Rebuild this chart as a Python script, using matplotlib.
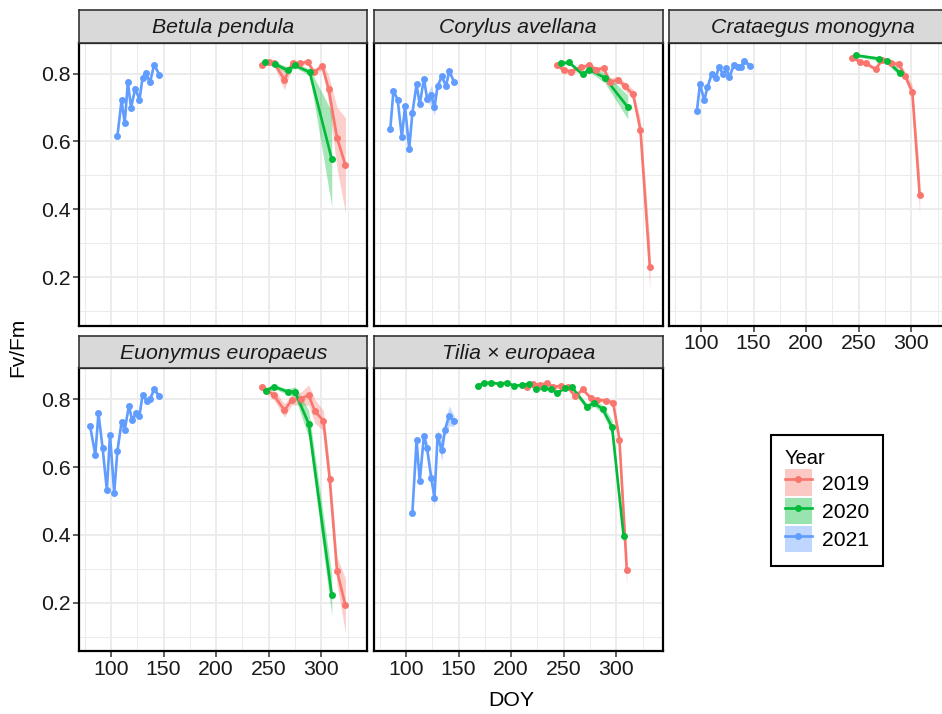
import matplotlib.pyplot as plt
from matplotlib.lines import Line2D
from matplotlib.patches import Patch
from matplotlib.ticker import MultipleLocator

plt.rcParams["font.family"] = ["Liberation Sans", "DejaVu Sans"]

W, H = 942, 714

years = ["2019", "2020", "2021"]
year_colors = ["#F8766D", "#00BA38", "#619CFF"]
species = ["Betula pendula", "Corylus avellana", "Crataegus monogyna",
           "Euonymus europaeus", "Tilia \u00d7 europaea"]

# Betula pendula
betula_2019_doy = [244, 250, 255, 265, 273, 280, 287, 293, 301, 307, 315, 323]
betula_2019_fvfm = [0.826, 0.835, 0.832, 0.782, 0.832, 0.830, 0.835, 0.804, 0.822, 0.755, 0.611, 0.530]
betula_2019_se = [0.006, 0.006, 0.008, 0.03, 0.006, 0.006, 0.008, 0.01, 0.01, 0.04, 0.09, 0.14]
betula_2020_doy = [246, 256, 268, 275, 289, 310]
betula_2020_fvfm = [0.833, 0.828, 0.810, 0.824, 0.804, 0.548]
betula_2020_se = [0.006, 0.006, 0.01, 0.006, 0.01, 0.14]
betula_2021_doy = [106, 110, 113, 116, 119, 123, 127, 130, 133, 137, 141, 146]
betula_2021_fvfm = [0.615, 0.721, 0.654, 0.774, 0.700, 0.756, 0.723, 0.788, 0.802, 0.774, 0.826, 0.796]
betula_2021_se = [0.01, 0.012, 0.01, 0.008, 0.008, 0.01, 0.012, 0.01, 0.012, 0.008, 0.008, 0.006]

# Corylus avellana
corylus_2019_doy = [244, 250, 257, 266, 274, 281, 288, 294, 302, 308, 316, 323, 332]
corylus_2019_fvfm = [0.825, 0.810, 0.806, 0.818, 0.824, 0.812, 0.816, 0.775, 0.782, 0.763, 0.739, 0.634, 0.229]
corylus_2019_se = [0.006, 0.008, 0.008, 0.008, 0.008, 0.008, 0.008, 0.012, 0.01, 0.012, 0.015, 0.03, 0.07]
corylus_2020_doy = [247, 255, 268, 274, 289, 311]
corylus_2020_fvfm = [0.830, 0.833, 0.798, 0.812, 0.788, 0.701]
corylus_2020_se = [0.005, 0.005, 0.008, 0.006, 0.015, 0.035]
corylus_2021_doy = [85, 88, 92, 96, 99, 103, 106, 110, 113, 117, 120, 124, 127, 130, 134, 138, 141, 146]
corylus_2021_fvfm = [0.637, 0.749, 0.723, 0.613, 0.703, 0.578, 0.684, 0.768, 0.709, 0.785, 0.726,
                     0.736, 0.701, 0.763, 0.792, 0.763, 0.807, 0.774]
corylus_2021_se = [0.008, 0.008, 0.008, 0.01, 0.008, 0.01, 0.008, 0.008, 0.008, 0.008, 0.01,
                   0.03, 0.025, 0.008, 0.008, 0.008, 0.008, 0.008]

# Crataegus monogyna
crataegus_2019_doy = [244, 251, 257, 266, 272, 281, 288, 294, 301, 308]
crataegus_2019_fvfm = [0.847, 0.835, 0.830, 0.813, 0.839, 0.830, 0.828, 0.794, 0.746, 0.443]
crataegus_2019_se = [0.005, 0.006, 0.006, 0.006, 0.006, 0.006, 0.01, 0.012, 0.02, 0.06]
crataegus_2020_doy = [247, 269, 277, 289]
crataegus_2020_fvfm = [0.854, 0.844, 0.837, 0.802]
crataegus_2020_se = [0.004, 0.006, 0.008, 0.01]
crataegus_2021_doy = [96, 99, 103, 106, 110, 114, 117, 121, 124, 127, 131, 135, 138, 141, 147]
crataegus_2021_fvfm = [0.689, 0.770, 0.721, 0.759, 0.798, 0.788, 0.820, 0.798, 0.815, 0.790,
                       0.824, 0.820, 0.820, 0.837, 0.822]
crataegus_2021_se = [0.02, 0.008, 0.008, 0.008, 0.008, 0.008, 0.008, 0.008, 0.008, 0.008,
                     0.008, 0.008, 0.008, 0.008, 0.008]

# Euonymus europaeus
euonymus_2019_doy = [244, 255, 265, 272, 281, 288, 294, 302, 308, 315, 323]
euonymus_2019_fvfm = [0.835, 0.812, 0.767, 0.798, 0.802, 0.812, 0.764, 0.737, 0.565, 0.294, 0.192]
euonymus_2019_se = [0.006, 0.015, 0.02, 0.015, 0.02, 0.03, 0.035, 0.03, 0.04, 0.04, 0.08]
euonymus_2020_doy = [247, 255, 268, 275, 288, 310]
euonymus_2020_fvfm = [0.825, 0.837, 0.822, 0.822, 0.728, 0.223]
euonymus_2020_se = [0.008, 0.006, 0.008, 0.015, 0.04, 0.06]
euonymus_2021_doy = [80, 85, 88, 92, 96, 99, 103, 106, 110, 113, 117, 120, 124, 127, 130, 134, 137, 141, 146]
euonymus_2021_fvfm = [0.722, 0.636, 0.758, 0.655, 0.532, 0.695, 0.524, 0.647, 0.732, 0.710,
                      0.780, 0.739, 0.759, 0.751, 0.813, 0.796, 0.800, 0.829, 0.808]
euonymus_2021_se = [0.008, 0.008, 0.008, 0.008, 0.015, 0.008, 0.015, 0.008, 0.008, 0.008,
                    0.008, 0.008, 0.008, 0.008, 0.008, 0.008, 0.008, 0.008, 0.008]

# Tilia x europaea
tilia_2019_doy = [215, 221, 227, 234, 240, 247, 254, 261, 268, 276, 282, 290, 297, 303, 310]
tilia_2019_fvfm = [0.835, 0.845, 0.842, 0.847, 0.837, 0.839, 0.835, 0.808, 0.829, 0.803,
                   0.798, 0.796, 0.790, 0.681, 0.298]
tilia_2019_se = [0.005, 0.005, 0.005, 0.005, 0.005, 0.005, 0.006, 0.008, 0.006, 0.006,
                 0.006, 0.006, 0.008, 0.02, 0.05]
tilia_2020_doy = [168, 174, 181, 189, 196, 203, 210, 217, 224, 231, 238, 244, 251, 258, 272, 279, 287, 296, 307]
tilia_2020_fvfm = [0.839, 0.847, 0.849, 0.845, 0.849, 0.839, 0.842, 0.845, 0.831, 0.832,
                   0.829, 0.818, 0.833, 0.835, 0.778, 0.788, 0.771, 0.718, 0.397]
tilia_2020_se = [0.004, 0.004, 0.004, 0.004, 0.004, 0.004, 0.004, 0.004, 0.004, 0.004,
                 0.004, 0.005, 0.005, 0.005, 0.01, 0.01, 0.012, 0.02, 0.02]
tilia_2021_doy = [106, 110, 113, 117, 120, 124, 127, 130, 134, 137, 141, 146]
tilia_2021_fvfm = [0.464, 0.679, 0.558, 0.692, 0.655, 0.567, 0.510, 0.691, 0.649, 0.710, 0.751, 0.735]
tilia_2021_se = [0.01, 0.01, 0.015, 0.012, 0.02, 0.02, 0.03, 0.02, 0.03, 0.02, 0.03, 0.015]

series = {
    "Betula pendula": [(betula_2019_doy, betula_2019_fvfm, betula_2019_se),
                       (betula_2020_doy, betula_2020_fvfm, betula_2020_se),
                       (betula_2021_doy, betula_2021_fvfm, betula_2021_se)],
    "Corylus avellana": [(corylus_2019_doy, corylus_2019_fvfm, corylus_2019_se),
                         (corylus_2020_doy, corylus_2020_fvfm, corylus_2020_se),
                         (corylus_2021_doy, corylus_2021_fvfm, corylus_2021_se)],
    "Crataegus monogyna": [(crataegus_2019_doy, crataegus_2019_fvfm, crataegus_2019_se),
                           (crataegus_2020_doy, crataegus_2020_fvfm, crataegus_2020_se),
                           (crataegus_2021_doy, crataegus_2021_fvfm, crataegus_2021_se)],
    "Euonymus europaeus": [(euonymus_2019_doy, euonymus_2019_fvfm, euonymus_2019_se),
                           (euonymus_2020_doy, euonymus_2020_fvfm, euonymus_2020_se),
                           (euonymus_2021_doy, euonymus_2021_fvfm, euonymus_2021_se)],
    "Tilia \u00d7 europaea": [(tilia_2019_doy, tilia_2019_fvfm, tilia_2019_se),
                              (tilia_2020_doy, tilia_2020_fvfm, tilia_2020_se),
                              (tilia_2021_doy, tilia_2021_fvfm, tilia_2021_se)],
}

# panel geometry in pixels (ggplot facet_wrap, 3 columns)
col_left = [79, 374, 669]
panel_w = 288.5
row_top = [42.7, 368.3]
panel_h = 283
strip_h = 32.5
tick_fs = 15.3
strip_fs = 15.3


def px_axes(fig, left, top, width, height):
    return fig.add_axes([left / W, 1 - (top + height) / H, width / W, height / H])


fig = plt.figure(figsize=(W / 100, H / 100), dpi=100)

for index, name in enumerate(species):
    row, col = divmod(index, 3)
    ax = px_axes(fig, col_left[col], row_top[row], panel_w, panel_h)
    ax.set_xlim(69.5, 344)
    ax.set_ylim(0.057, 0.891)
    ax.xaxis.set_major_locator(MultipleLocator(50))
    ax.xaxis.set_minor_locator(MultipleLocator(25))
    ax.yaxis.set_major_locator(MultipleLocator(0.2))
    ax.yaxis.set_minor_locator(MultipleLocator(0.1))
    ax.grid(True, which="major", color="#EBEBEB", linewidth=1.3)
    ax.grid(True, which="minor", color="#EBEBEB", linewidth=0.7)
    ax.set_axisbelow(True)
    for spine in ax.spines.values():
        spine.set_color("black")
        spine.set_linewidth(1.6)

    for (doy, fvfm, se), color in zip(series[name], year_colors):
        lower = [m - s for m, s in zip(fvfm, se)]
        upper = [m + s for m, s in zip(fvfm, se)]
        ax.fill_between(doy, lower, upper, color=color, alpha=0.35, linewidth=0, zorder=1)
    for (doy, fvfm, se), color in zip(series[name], year_colors):
        ax.plot(doy, fvfm, color=color, linewidth=1.9, zorder=2)
    for (doy, fvfm, se), color in zip(series[name], year_colors):
        ax.plot(doy, fvfm, linestyle="none", marker="o", markersize=5,
                markeredgewidth=0, color=color, zorder=3)

    show_x = row == 1 or col == 2
    show_y = col == 0
    ax.tick_params(which="minor", length=0)
    ax.tick_params(axis="x", which="major", length=4 if show_x else 0, width=1.1,
                   color="#333333", labelsize=tick_fs, labelcolor="#1A1A1A",
                   labelbottom=show_x, pad=2)
    ax.tick_params(axis="y", which="major", length=4 if show_y else 0, width=1.1,
                   color="#333333", labelsize=tick_fs, labelcolor="#1A1A1A",
                   labelleft=show_y, pad=2)
    ax.yaxis.set_major_formatter(plt.FuncFormatter(lambda v, p: f"{v:.1f}"))

    strip = px_axes(fig, col_left[col], row_top[row] - strip_h, panel_w, strip_h)
    strip.set_facecolor("#D9D9D9")
    strip.set_xticks([])
    strip.set_yticks([])
    for spine in strip.spines.values():
        spine.set_color("#333333")
        spine.set_linewidth(1.2)
    strip.text(0.5, 0.47, name, transform=strip.transAxes, ha="center", va="center",
               fontsize=strip_fs, fontstyle="italic", color="#1A1A1A")

fig.text(18 / W, 1 - 347 / H, "Fv/Fm", rotation=90, ha="center", va="center", fontsize=15)
fig.text(511 / W, 1 - 700 / H, "DOY", ha="center", va="center", fontsize=15.3)

handles = [(Patch(facecolor=c, alpha=0.4, linewidth=0),
            Line2D([], [], color=c, linewidth=1.9, marker="o", markersize=5, markeredgewidth=0))
           for c in year_colors]
leg = fig.legend(handles, years, loc="upper left", bbox_to_anchor=(771 / W, 1 - 435 / H),
                 title="Year", title_fontsize=14.5, fontsize=15.2, frameon=True, fancybox=False,
                 framealpha=1, edgecolor="black", handlelength=1.3, handleheight=1.55,
                 labelspacing=0.08, borderpad=0.65, handletextpad=0.45, alignment="left",
                 borderaxespad=0)
leg.get_frame().set_linewidth(1.5)

fig.savefig("out.png", dpi=100)
